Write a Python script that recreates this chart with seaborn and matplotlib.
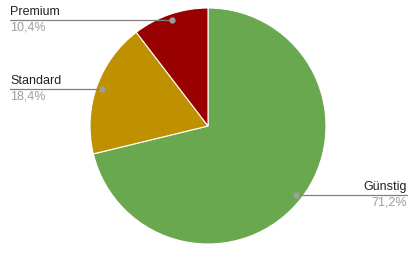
import numpy as np
import matplotlib
matplotlib.use("Agg")
import matplotlib.pyplot as plt
import seaborn as sns

categories = ["Günstig", "Standard", "Premium"]
values = [71.2, 18.4, 10.4]
pct_labels = ["71,2%", "18,4%", "10,4%"]
colors = ["#6aa84f", "#bf9000", "#990000"]

sns.set_theme(style="white")
plt.rcParams['font.family'] = ['Liberation Sans', 'DejaVu Sans']

W, H = 415, 254
cx, cy, R = 208, 126, 118
fig = plt.figure(figsize=(W / 100, H / 100), dpi=100)
ax = fig.add_axes([0, 0, 1, 1])

wedges, _ = ax.pie(values, colors=colors, startangle=90, counterclock=False,
                   radius=1.0, wedgeprops=dict(edgecolor="white", linewidth=0.8))
ax.set_xlim(-cx / R, (W - cx) / R)
ax.set_ylim(-(H - cy) / R, cy / R)
ax.set_aspect("equal")
ax.axis("off")

def px(x):
    return (x - cx) / R

line_col = "#808080"
for w, cat, pct in zip(wedges, categories, pct_labels):
    mid = np.deg2rad((w.theta1 + w.theta2) / 2)
    dx, dy = 0.95 * np.cos(mid), 0.95 * np.sin(mid)
    ax.plot([dx], [dy], "o", color="#9e9e9e", markersize=3.5, zorder=5)
    if dx < 0:
        x_end = px(10)
        ha = "left"
    else:
        x_end = px(407)
        ha = "right"
    ax.plot([dx, x_end], [dy, dy], color=line_col, linewidth=0.9, zorder=4)
    ax.text(x_end, dy + 2 / R, cat, ha=ha, va="bottom", fontsize=9, color="#222222")
    ax.text(x_end, dy - 1.5 / R, pct, ha=ha, va="top", fontsize=9, color="#9e9e9e")

fig.savefig("out.png", dpi=100)
